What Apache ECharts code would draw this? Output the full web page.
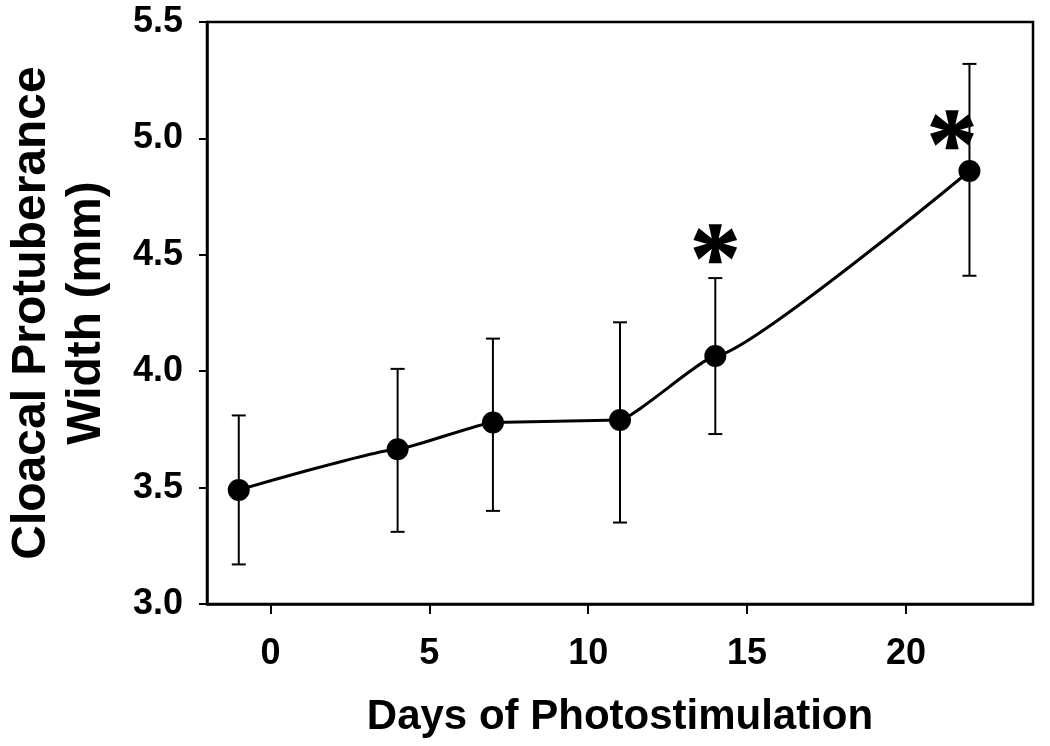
<!DOCTYPE html>
<html>
<head>
<meta charset="utf-8">
<script src="https://cdn.jsdelivr.net/npm/echarts@6/dist/echarts.min.js"></script>
<style>
  html, body { margin: 0; padding: 0; background: #fff; }
  #chart { width: 1050px; height: 746px; }
</style>
</head>
<body>
<div id="chart"></div>
<script>
// ---- data ----
var days  = [-1, 4, 7, 11, 14, 22];
var means = [3.49, 3.665, 3.78, 3.79, 4.065, 4.86];
var upper = [3.81, 4.01, 4.14, 4.21, 4.40, 5.32];
var lower = [3.17, 3.31, 3.40, 3.35, 3.73, 4.41];
var xTicks = [0, 5, 10, 15, 20];
// significance markers (x, y positions of asterisks)
var sigX = [14, 21.45];
var sigY = [4.55, 5.04];

var lineData = days.map(function (d, i) { return [d, means[i]]; });
var errData = days.map(function (d, i) { return [d, lower[i], upper[i]]; });
var sigData = sigX.map(function (d, i) { return [d, sigY[i]]; });

var FONT = '"Liberation Sans", Arial, Helvetica, sans-serif';

var chart = echarts.init(document.getElementById('chart'), null, { renderer: 'canvas' });
chart.setOption({
  backgroundColor: '#ffffff',
  animation: false,
  grid: {
    left: 207, right: 17, top: 22, bottom: 142,
    containLabel: false,
    outerBoundsMode: 'none',
    show: true, borderColor: '#000', borderWidth: 2.5, backgroundColor: 'transparent'
  },
  xAxis: {
    type: 'value',
    min: -2, max: 24,
    name: 'Days of Photostimulation',
    nameLocation: 'middle',
    nameGap: 92,
    nameTextStyle: { fontFamily: FONT, fontWeight: 'bold', fontSize: 42, color: '#000' },
    axisLine: { show: true, onZero: false, lineStyle: { color: '#000', width: 2.5 } },
    axisTick: { show: true, inside: false, length: 10, customValues: xTicks, lineStyle: { color: '#000', width: 2 } },
    axisLabel: { customValues: xTicks, margin: 32, fontFamily: FONT, fontWeight: 'bold', fontSize: 36, color: '#000' },
    splitLine: { show: false }
  },
  yAxis: {
    type: 'value',
    min: 3.0, max: 5.5, interval: 0.5,
    name: 'Cloacal Protuberance\nWidth (mm)',
    nameLocation: 'middle',
    nameRotate: 90,
    nameGap: 93,
    nameTextStyle: { fontFamily: FONT, fontWeight: 'bold', fontSize: 48, lineHeight: 55, color: '#000', align: 'center' },
    axisLine: { show: true, onZero: false, lineStyle: { color: '#000', width: 2.5 } },
    axisTick: { show: true, inside: false, length: 8, lineStyle: { color: '#000', width: 2 } },
    axisLabel: {
      margin: 24, fontFamily: FONT, fontWeight: 'bold', fontSize: 36, color: '#000',
      formatter: function (v) { return v.toFixed(1); }
    },
    splitLine: { show: false }
  },
  series: [
    {
      type: 'custom',
      name: 'error',
      z: 1,
      data: errData,
      renderItem: function (params, api) {
        var x = api.value(0);
        var lo = api.coord([x, api.value(1)]);
        var hi = api.coord([x, api.value(2)]);
        var cap = 7;
        var style = { stroke: '#000', lineWidth: 2 };
        return {
          type: 'group',
          children: [
            { type: 'line', shape: { x1: hi[0], y1: hi[1], x2: lo[0], y2: lo[1] }, style: style },
            { type: 'line', shape: { x1: hi[0] - cap, y1: hi[1], x2: hi[0] + cap, y2: hi[1] }, style: style },
            { type: 'line', shape: { x1: lo[0] - cap, y1: lo[1], x2: lo[0] + cap, y2: lo[1] }, style: style }
          ]
        };
      }
    },
    {
      type: 'line',
      name: 'mean',
      z: 3,
      data: lineData,
      smooth: 0.12,
      smoothMonotone: 'x',
      symbol: 'circle',
      symbolSize: 22,
      itemStyle: { color: '#000' },
      lineStyle: { color: '#000', width: 3 }
    },
    {
      type: 'custom',
      name: 'sig',
      z: 4,
      data: sigData,
      renderItem: function (params, api) {
        var p = api.coord([api.value(0), api.value(1)]);
        return {
          type: 'text',
          x: p[0],
          y: p[1] + 21,
          style: {
            text: '*',
            fill: '#000',
            stroke: '#000',
            lineWidth: 1.5,
            opacity: 1,
            font: 'bold 100px "Liberation Serif", "Times New Roman", serif',
            align: 'center',
            verticalAlign: 'middle'
          }
        };
      }
    }
  ]
});
</script>
</body>
</html>
